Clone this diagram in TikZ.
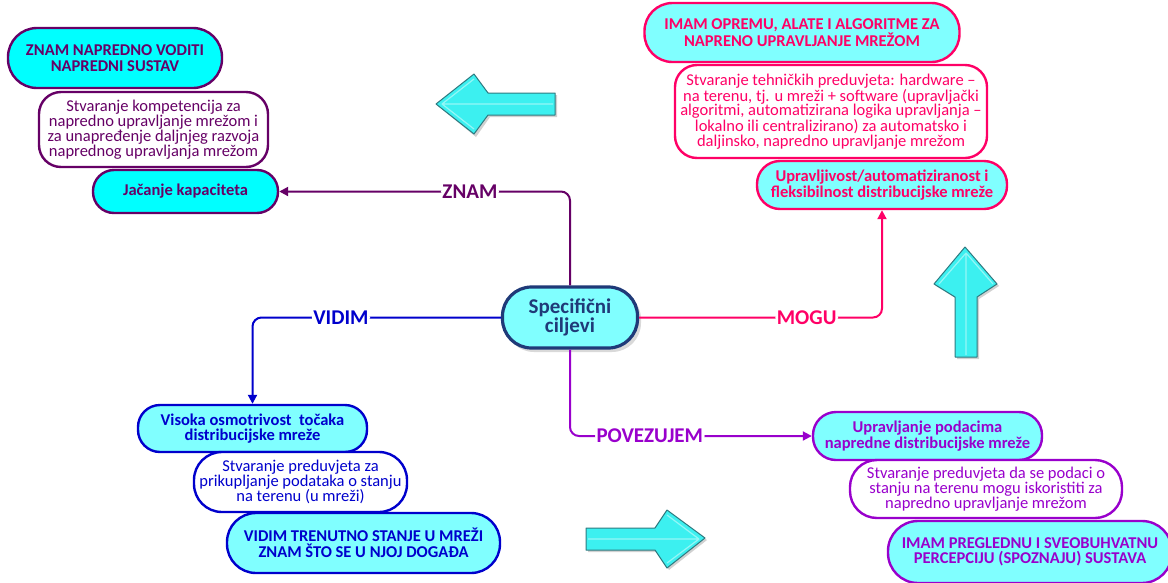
\documentclass[tikz,border=0pt]{standalone}
\usepackage{fontspec}
\setmainfont{Carlito}
\usetikzlibrary{arrows.meta}
\definecolor{znam}{HTML}{660066}
\definecolor{mogu}{HTML}{FF0066}
\definecolor{vidim}{HTML}{0000CC}
\definecolor{povez}{HTML}{9900CC}
\definecolor{navy}{HTML}{1F3A78}
\definecolor{cyanB}{HTML}{00FFFF}
\definecolor{cyanL}{HTML}{80FFFF}
\definecolor{arrfill}{HTML}{3CF0F0}
\definecolor{arrline}{HTML}{2E7A80}
\begin{document}
\begin{tikzpicture}[x=1pt,y=-1pt,
  box/.style={draw, line width=2.4pt, align=center, inner sep=0pt},
  titlef/.style={font=\fontsize{16.5}{15.5}\selectfont\bfseries},
  bodyf/.style={font=\fontsize{16.5}{14.8}\selectfont},
  zb/.style={draw=znam, text=znam},
  mb/.style={draw=mogu, text=mogu},
  vb/.style={draw=vidim, text=vidim},
  pb/.style={draw=povez, text=povez},
  conn/.style={line width=2pt, rounded corners=9pt, -{Triangle[length=9pt,width=9pt]}},
  lab/.style={fill=white, inner sep=1.5pt, font=\fontsize{21}{21}\selectfont\bfseries},
  blockarrow/.style={fill=arrfill, draw=arrline, line width=1pt, line join=round},
  ridge/.style={draw=white, opacity=0.45, line width=1.2pt},
  bshadow/.style={fill=black, opacity=0.18, draw=none}
]
\useasboundingbox (0,0) rectangle (1168,582);
\clip (0,0) rectangle (1168,582);
\fill[white] (0,0) rectangle (1168,582);

% ZNAM branch
\node[box,zb,titlef,fill=cyanB,minimum width=214pt,minimum height=60pt,rounded corners=29pt] (z1) at (115,58) {ZNAM NAPREDNO VODITI\\NAPREDNI SUSTAV};
\node[box,zb,bodyf,fill=white,minimum width=229pt,minimum height=75pt,rounded corners=22pt] (z2) at (153.5,129.5) {Stvaranje kompetencija za\\napredno upravljanje mrežom i\\za unapređenje daljnjeg razvoja\\naprednog upravljanja mrežom};
\node[box,zb,titlef,fill=cyanB,minimum width=185pt,minimum height=43pt,rounded corners=21pt] (z3) at (185.5,191.5) {Jačanje kapaciteta};

% MOGU branch
\node[box,mb,titlef,fill=cyanL,minimum width=315pt,minimum height=59pt,rounded corners=28pt] (m1) at (802,32.5) {IMAM OPREMU, ALATE I ALGORITME ZA\\NAPRENO UPRAVLJANJE MREŽOM};
\node[box,mb,bodyf,fill=white,minimum width=312pt,minimum height=93pt,rounded corners=22pt] (m2) at (831,111.5) {Stvaranje tehničkih preduvjeta: hardware –\\na terenu, tj. u mreži + software (upravljački\\algoritmi, automatizirana logika upravljanja –\\lokalno ili centralizirano) za automatsko i\\daljinsko, napredno upravljanje mrežom};
\node[box,mb,titlef,fill=cyanL,minimum width=250pt,minimum height=48pt,rounded corners=23pt] (m3) at (882,185) {Upravljivost/automatiziranost i\\fleksibilnost distribucijske mreže};

% VIDIM branch
\node[box,vb,titlef,fill=cyanL,minimum width=229pt,minimum height=47pt,rounded corners=22pt] (v1) at (252.5,428.5) {Visoka osmotrivost\ \ točaka\\distribucijske mreže};
\node[box,vb,bodyf,fill=white,minimum width=213pt,minimum height=60pt,rounded corners=28pt] (v2) at (300.5,482) {Stvaranje preduvjeta za\\prikupljanje podataka o stanju\\na terenu (u mreži)};
\node[box,vb,titlef,fill=cyanL,minimum width=273pt,minimum height=60pt,rounded corners=29pt] (v3) at (363.5,543) {VIDIM TRENUTNO STANJE U MREŽI\\ZNAM ŠTO SE U NJOJ DOGAĐA};

% POVEZUJEM branch
\node[box,pb,titlef,fill=cyanL,minimum width=229pt,minimum height=48pt,rounded corners=23pt] (p1) at (927.5,436) {Upravljanje podacima\\napredne distribucijske mreže};
\node[box,pb,bodyf,fill=white,minimum width=272pt,minimum height=58pt,rounded corners=27pt] (p2) at (986,489) {Stvaranje preduvjeta da se podaci o\\stanju na terenu mogu iskoristiti za\\napredno upravljanje mrežom};
\node[box,pb,titlef,fill=cyanL,minimum width=284pt,minimum height=62pt,rounded corners=30pt] (p3) at (1030,552) {IMAM PREGLEDNU I SVEOBUHVATNU\\PERCEPCIJU (SPOZNAJU) SUSTAVA};

% centre
\fill[black,opacity=0.15,rounded corners=29pt] (505,290) rectangle (641,352);
\node[box,draw=navy,text=navy,line width=3.2pt,fill=cyanL,minimum width=135pt,minimum height=61pt,rounded corners=29pt,font=\fontsize{21}{19}\selectfont\bfseries] (c) at (570,317.5) {Specifični\\ciljevi};

% connectors
\draw[conn,znam] (c.north) |- node[lab,text=znam,pos=0.672]{ZNAM} (z3.east);
\draw[conn,vidim] (c.west) -| node[lab,text=vidim,pos=0.322]{VIDIM} (v1.north);
\draw[conn,mogu] (c.east) -| node[lab,text=mogu,pos=0.345]{MOGU} (m3.south);
\draw[conn,povez] (c.south) |- node[lab,text=povez,pos=0.665]{POVEZUJEM} (p1.west);

% decorative block arrows
\fill[bshadow] (438,106) -- (476,77) -- (490,95) -- (557,95) -- (557,117) -- (490,117) -- (476,137) -- cycle;
\draw[blockarrow] (436,104) -- (474,74) -- (488,93) -- (555,93) -- (555,115) -- (488,115) -- (474,134) -- cycle;
\draw[ridge] (442,104) -- (553,104) (442,104) -- (474,79) (442,104) -- (474,129);
\fill[bshadow] (967,249) -- (999,286) -- (979,299) -- (979,359) -- (957,359) -- (957,299) -- (936,286) -- cycle;
\draw[blockarrow] (965,247) -- (997,284) -- (977,297) -- (977,357) -- (955,357) -- (955,297) -- (934,284) -- cycle;
\draw[ridge] (966,253) -- (966,355) (966,253) -- (939,284) (966,253) -- (993,284);
\fill[bshadow] (588,530) -- (657,530) -- (669,512) -- (707,540) -- (669,570) -- (657,552) -- (588,552) -- cycle;
\draw[blockarrow] (586,528) -- (655,528) -- (667,510) -- (705,538) -- (667,568) -- (655,550) -- (586,550) -- cycle;
\draw[ridge] (588,539) -- (699,539) (699,539) -- (667,515) (699,539) -- (667,563);
\end{tikzpicture}
\end{document}
